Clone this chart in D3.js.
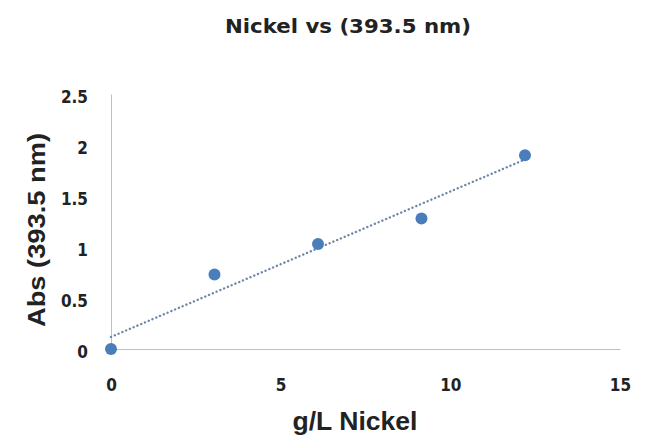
<!DOCTYPE html>
<html>
<head>
<meta charset="utf-8">
<script src="https://cdn.jsdelivr.net/npm/d3@7"></script>
<style>
  body { margin: 0; background: #fff; }
  text { fill: #222; }
</style>
</head>
<body>
<svg id="chart" width="647" height="436"></svg>
<script>
// data
let concentrations = [0, 3.05, 6.1, 9.15, 12.2];   // g/L Nickel
let absorbances = [0, 0.73, 1.03, 1.28, 1.9];      // Abs at 393.5 nm
let xTicks = [0, 5, 10, 15];
let yTicks = [0, 0.5, 1, 1.5, 2, 2.5];

let svg = d3.select('#chart');
let pointColor = '#4a7ebb';
let tickFont = 'bold 17px "DejaVu Sans Condensed", "Liberation Sans Narrow", sans-serif';

let xScale = d3.scaleLinear().domain([0, 15]).range([111, 620]);
let yScale = d3.scaleLinear().domain([0, 2.5]).range([349, 94]);

// least squares trendline, like excel's linear trendline
let meanX = d3.mean(concentrations), meanY = d3.mean(absorbances);
let sxy = d3.sum(concentrations, (x, i) => (x - meanX) * (absorbances[i] - meanY));
let sxx = d3.sum(concentrations, x => (x - meanX) * (x - meanX));
let slope = sxy / sxx;
let intercept = meanY - slope * meanX;

// axes, no ticks only the line
svg.append('g')
    .attr('transform', 'translate(0,' + yScale(0) + ')')
    .call(d3.axisBottom(xScale).tickValues(xTicks).tickFormat(d3.format('')).tickSize(0).tickPadding(30))
    .call(g => g.select('.domain').attr('stroke', '#bfbfbf'))
    .call(g => g.selectAll('text').style('font', tickFont).attr('fill', '#222'));

svg.append('g')
    .attr('transform', 'translate(' + xScale(0) + ',0)')
    .call(d3.axisLeft(yScale).tickValues(yTicks).tickFormat(d3.format('')).tickSize(0).tickPadding(23))
    .call(g => g.select('.domain').attr('stroke', '#bfbfbf'))
    .call(g => g.selectAll('text').style('font', tickFont).attr('fill', '#222').attr('dy', '0.5em'));

// trendline
let xEnd = d3.max(concentrations);
svg.append('line')
    .attr('x1', xScale(0)).attr('y1', yScale(intercept))
    .attr('x2', xScale(xEnd)).attr('y2', yScale(intercept + slope * xEnd))
    .attr('stroke', '#6f87a8')
    .attr('stroke-width', 2.4)
    .attr('stroke-dasharray', '0.1 4')
    .attr('stroke-linecap', 'round');

// points
svg.selectAll('.dot')
    .data(concentrations)
    .enter().append('circle')
    .attr('class', 'dot')
    .attr('cx', d => xScale(d))
    .attr('cy', (d, i) => yScale(absorbances[i]))
    .attr('r', 6)
    .attr('fill', pointColor);

// titles
svg.append('text')
    .attr('x', 348).attr('y', 33)
    .attr('text-anchor', 'middle')
    .attr('textLength', 246)
    .attr('lengthAdjust', 'spacingAndGlyphs')
    .style('font', 'bold 20px "DejaVu Sans Condensed", sans-serif')
    .text('Nickel  vs  (393.5 nm)');

svg.append('text')
    .attr('x', 355).attr('y', 430)
    .attr('text-anchor', 'middle')
    .attr('textLength', 125)
    .attr('lengthAdjust', 'spacingAndGlyphs')
    .style('font', 'bold 26px "Liberation Sans", Arial, sans-serif')
    .text('g/L Nickel');

svg.append('text')
    .attr('transform', 'translate(45,230) rotate(-90)')
    .attr('text-anchor', 'middle')
    .attr('textLength', 194)
    .attr('lengthAdjust', 'spacingAndGlyphs')
    .style('font', 'bold 24px "Liberation Sans", Arial, sans-serif')
    .text('Abs (393.5 nm)');
</script>
</body>
</html>
